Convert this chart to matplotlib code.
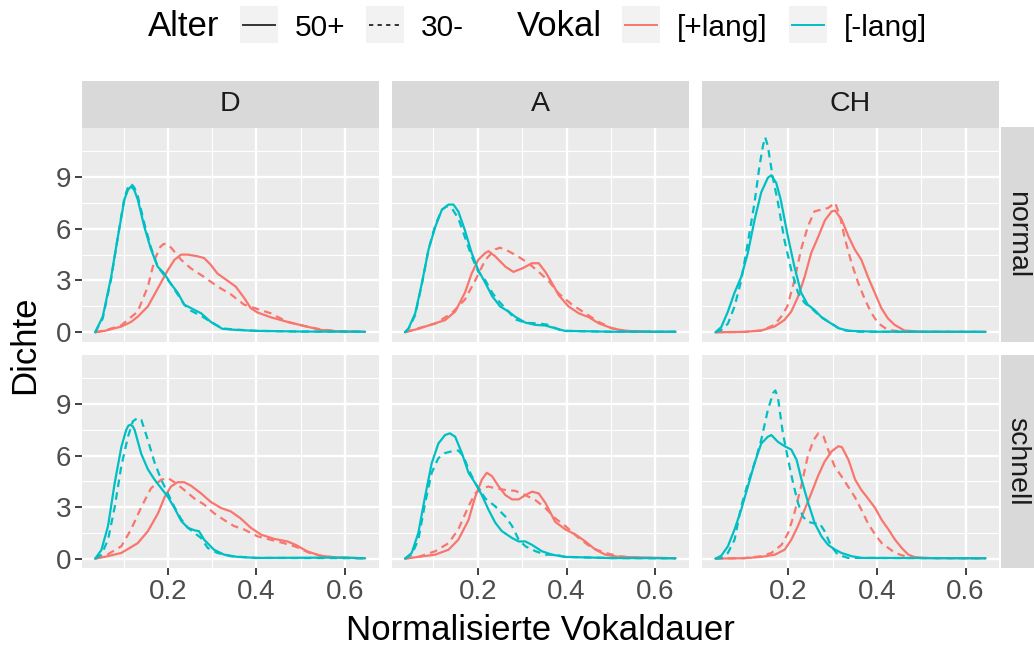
import matplotlib
matplotlib.use("Agg")
import matplotlib.pyplot as plt
from matplotlib.lines import Line2D
from matplotlib.patches import Rectangle

plt.rcParams["font.family"] = ["Liberation Sans", "DejaVu Sans"]

# facets
REGIONEN = ["D", "A", "CH"]
TEMPI = ["normal", "schnell"]
VOKALE = ["[+lang]", "[-lang]"]
ALTER = ["50+", "30-"]

X_TICKS = [0.2, 0.4, 0.6]
Y_TICKS = [0, 3, 6, 9]

# density curves: (Vokaldauer, Dichte)
D_N_PLUS_50 = [(0.036, 0), (0.057, 0.08), (0.095, 0.33), (0.117, 0.6), (0.132, 0.9), (0.155, 1.5),
               (0.17, 2.2), (0.185, 2.9), (0.2, 3.6), (0.215, 4.2), (0.23, 4.5), (0.245, 4.5),
               (0.267, 4.4), (0.282, 4.3), (0.297, 3.9), (0.312, 3.4), (0.334, 3.0), (0.353, 2.65),
               (0.372, 2.0), (0.387, 1.4), (0.402, 1.15), (0.432, 0.87), (0.47, 0.6), (0.507, 0.37),
               (0.544, 0.14), (0.58, 0.06), (0.645, 0.02)]
D_N_PLUS_30 = [(0.036, 0), (0.06, 0.12), (0.095, 0.4), (0.132, 1.2), (0.155, 2.65), (0.17, 4.2),
               (0.183, 4.95), (0.191, 5.12), (0.2, 5.1), (0.209, 4.85), (0.23, 4.2), (0.252, 3.7),
               (0.282, 3.2), (0.312, 2.65), (0.342, 2.2), (0.372, 1.6), (0.402, 1.35), (0.432, 1.1),
               (0.447, 0.9), (0.47, 0.6), (0.507, 0.37), (0.544, 0.17), (0.58, 0.07), (0.645, 0.02)]
D_N_MINUS_50 = [(0.036, 0), (0.053, 0.9), (0.072, 3.2), (0.087, 5.5), (0.102, 7.7), (0.11, 8.25),
                (0.117, 8.45), (0.124, 8.25), (0.132, 7.7), (0.147, 6.1), (0.162, 4.8), (0.177, 3.8),
                (0.192, 3.4), (0.207, 2.8), (0.222, 2.3), (0.237, 1.6), (0.252, 1.4), (0.275, 1.1),
                (0.297, 0.6), (0.323, 0.2), (0.357, 0.13), (0.4, 0.08), (0.5, 0.04), (0.645, 0.03)]
D_N_MINUS_30 = [(0.036, 0), (0.053, 0.8), (0.072, 3.1), (0.087, 5.5), (0.102, 7.8), (0.11, 8.4),
                (0.117, 8.6), (0.124, 8.4), (0.132, 7.9), (0.147, 6.3), (0.162, 4.9), (0.177, 3.8),
                (0.192, 3.3), (0.207, 2.8), (0.222, 2.2), (0.237, 1.6), (0.252, 1.25), (0.275, 0.95),
                (0.297, 0.6), (0.323, 0.22), (0.357, 0.15), (0.4, 0.08), (0.5, 0.04), (0.645, 0.03)]

A_N_PLUS_50 = [(0.036, 0), (0.066, 0.2), (0.104, 0.52), (0.126, 0.7), (0.149, 1.2), (0.171, 2.3),
               (0.186, 3.4), (0.201, 4.2), (0.217, 4.6), (0.224, 4.7), (0.239, 4.4), (0.262, 3.8),
               (0.28, 3.5), (0.3, 3.7), (0.322, 4.0), (0.337, 4.0), (0.352, 3.5), (0.367, 2.85),
               (0.382, 2.15), (0.404, 1.5), (0.427, 1.1), (0.45, 0.87), (0.472, 0.52), (0.502, 0.23),
               (0.532, 0.08), (0.6, 0.02), (0.645, 0.02)]
A_N_PLUS_30 = [(0.036, 0), (0.066, 0.23), (0.104, 0.5), (0.141, 1.1), (0.171, 1.9), (0.194, 3.0),
               (0.217, 4.2), (0.239, 4.8), (0.25, 4.9), (0.269, 4.7), (0.29, 4.4), (0.314, 4.0),
               (0.337, 3.5), (0.36, 2.95), (0.382, 2.25), (0.412, 1.6), (0.442, 1.1), (0.472, 0.6),
               (0.502, 0.23), (0.532, 0.08), (0.6, 0.02), (0.645, 0.02)]
A_N_MINUS_50 = [(0.036, 0), (0.044, 0.23), (0.059, 1.1), (0.074, 2.85), (0.089, 4.8), (0.104, 6.1),
                (0.119, 7.1), (0.134, 7.4), (0.145, 7.4), (0.156, 7.0), (0.171, 5.9), (0.186, 4.6),
                (0.201, 3.6), (0.217, 2.85), (0.232, 2.1), (0.25, 1.5), (0.269, 1.2), (0.284, 0.9),
                (0.307, 0.56), (0.329, 0.43), (0.352, 0.39), (0.374, 0.23), (0.396, 0.08), (0.5, 0.03),
                (0.645, 0.03)]
A_N_MINUS_30 = [(0.036, 0), (0.044, 0.2), (0.059, 1.0), (0.074, 2.8), (0.089, 4.8), (0.104, 6.2),
                (0.119, 7.1), (0.13, 7.3), (0.141, 7.2), (0.156, 6.6), (0.171, 5.5), (0.186, 4.4),
                (0.201, 3.5), (0.217, 3.0), (0.232, 2.3), (0.247, 1.8), (0.269, 1.2), (0.284, 0.75),
                (0.307, 0.55), (0.33, 0.52), (0.355, 0.45), (0.374, 0.25), (0.39, 0.08), (0.5, 0.03),
                (0.645, 0.03)]

CH_N_PLUS_50 = [(0.036, 0), (0.1, 0.02), (0.139, 0.1), (0.169, 0.33), (0.191, 0.7), (0.207, 1.2),
                (0.222, 2.05), (0.237, 3.2), (0.252, 4.6), (0.268, 5.55), (0.283, 6.5), (0.298, 7.0),
                (0.306, 7.05), (0.321, 6.5), (0.336, 5.55), (0.35, 4.8), (0.365, 4.2), (0.38, 3.2),
                (0.395, 2.3), (0.41, 1.4), (0.425, 0.8), (0.44, 0.43), (0.462, 0.1), (0.5, 0.03),
                (0.645, 0.02)]
CH_N_PLUS_30 = [(0.036, 0), (0.1, 0.02), (0.14, 0.1), (0.169, 0.43), (0.184, 0.9), (0.198, 1.5),
                (0.214, 3.0), (0.229, 4.8), (0.244, 6.1), (0.259, 7.0), (0.274, 7.1), (0.29, 7.2),
                (0.306, 7.5), (0.317, 6.7), (0.328, 5.4), (0.343, 4.0), (0.358, 2.85), (0.373, 1.9),
                (0.388, 1.1), (0.403, 0.52), (0.425, 0.13), (0.46, 0.03), (0.645, 0.02)]
CH_N_MINUS_50 = [(0.036, 0), (0.049, 0.3), (0.064, 1.2), (0.079, 2.3), (0.094, 3.2), (0.109, 4.6),
                 (0.124, 6.5), (0.139, 8.1), (0.154, 8.95), (0.162, 9.1), (0.173, 8.65), (0.183, 7.7),
                 (0.198, 5.7), (0.214, 3.8), (0.229, 2.3), (0.244, 1.6), (0.259, 1.3), (0.274, 0.9),
                 (0.291, 0.6), (0.314, 0.23), (0.337, 0.08), (0.4, 0.03), (0.645, 0.02)]
CH_N_MINUS_30 = [(0.036, 0), (0.049, 0.13), (0.064, 0.5), (0.079, 1.5), (0.094, 3.0), (0.109, 5.2),
                 (0.124, 7.5), (0.135, 9.6), (0.143, 10.8), (0.148, 11.3), (0.154, 10.8), (0.165, 9.0),
                 (0.177, 7.5), (0.191, 5.4), (0.207, 3.6), (0.222, 2.3), (0.237, 1.7), (0.252, 1.4),
                 (0.274, 0.87), (0.297, 0.52), (0.32, 0.13), (0.36, 0.03), (0.645, 0.02)]

D_S_PLUS_50 = [(0.036, 0), (0.057, 0.1), (0.095, 0.33), (0.132, 0.9), (0.155, 1.6), (0.178, 2.65),
               (0.193, 3.6), (0.207, 4.2), (0.222, 4.45), (0.237, 4.45), (0.252, 4.25), (0.275, 3.8),
               (0.297, 3.3), (0.32, 2.95), (0.342, 2.75), (0.364, 2.35), (0.387, 1.8), (0.41, 1.4),
               (0.44, 1.15), (0.47, 1.0), (0.49, 0.78), (0.514, 0.43), (0.544, 0.17), (0.58, 0.06),
               (0.645, 0.02)]
D_S_PLUS_30 = [(0.036, 0), (0.057, 0.14), (0.095, 0.72), (0.117, 1.7), (0.14, 3.0), (0.162, 4.1),
               (0.185, 4.6), (0.2, 4.7), (0.215, 4.45), (0.237, 4.0), (0.26, 3.5), (0.282, 3.15),
               (0.304, 2.65), (0.327, 2.25), (0.349, 1.9), (0.372, 1.7), (0.402, 1.3), (0.432, 1.1),
               (0.462, 0.9), (0.49, 0.68), (0.52, 0.33), (0.55, 0.14), (0.59, 0.05), (0.645, 0.02)]
D_S_MINUS_50 = [(0.036, 0), (0.05, 0.5), (0.065, 1.9), (0.08, 4.4), (0.095, 6.5), (0.106, 7.5),
                (0.111, 7.75), (0.116, 7.8), (0.121, 7.7), (0.125, 7.5), (0.14, 6.1), (0.155, 5.2),
                (0.17, 4.6), (0.185, 4.1), (0.2, 3.6), (0.215, 2.95), (0.23, 2.2), (0.245, 1.8),
                (0.26, 1.65), (0.27, 1.6), (0.282, 1.1), (0.304, 0.52), (0.327, 0.23), (0.357, 0.1),
                (0.4, 0.04), (0.6, 0.06), (0.645, 0.02)]
D_S_MINUS_30 = [(0.036, 0), (0.05, 0.23), (0.065, 1.1), (0.08, 3.0), (0.095, 5.4), (0.11, 7.1),
                (0.121, 8.0), (0.132, 8.2), (0.14, 8.1), (0.155, 6.9), (0.17, 5.6), (0.185, 4.6),
                (0.2, 3.8), (0.215, 3.0), (0.23, 2.3), (0.245, 1.8), (0.26, 1.5), (0.275, 1.2),
                (0.29, 0.62), (0.312, 0.33), (0.342, 0.14), (0.4, 0.04), (0.645, 0.02)]

A_S_PLUS_50 = [(0.036, 0), (0.066, 0.1), (0.104, 0.23), (0.134, 0.52), (0.156, 1.1), (0.179, 2.25),
               (0.194, 3.6), (0.209, 4.6), (0.22, 5.0), (0.232, 4.8), (0.247, 4.2), (0.262, 3.7),
               (0.277, 3.45), (0.292, 3.45), (0.307, 3.7), (0.322, 3.9), (0.337, 3.8), (0.352, 3.25),
               (0.374, 2.15), (0.397, 1.7), (0.42, 1.4), (0.442, 1.0), (0.465, 0.52), (0.487, 0.23),
               (0.517, 0.1), (0.645, 0.02)]
A_S_PLUS_30 = [(0.036, 0), (0.066, 0.1), (0.104, 0.43), (0.134, 0.9), (0.156, 1.7), (0.179, 3.05),
               (0.194, 3.8), (0.209, 4.1), (0.224, 4.2), (0.239, 4.1), (0.262, 4.0), (0.284, 3.95),
               (0.307, 3.7), (0.33, 3.4), (0.352, 2.95), (0.374, 2.35), (0.397, 1.9), (0.427, 1.2),
               (0.457, 0.62), (0.487, 0.33), (0.517, 0.14), (0.56, 0.05), (0.645, 0.02)]
A_S_MINUS_50 = [(0.036, 0), (0.051, 0.33), (0.066, 1.5), (0.081, 3.6), (0.096, 5.55), (0.111, 6.7),
                (0.126, 7.2), (0.137, 7.3), (0.149, 7.1), (0.164, 6.15), (0.179, 5.0), (0.194, 4.4),
                (0.209, 3.7), (0.224, 2.85), (0.239, 2.1), (0.254, 1.6), (0.277, 1.2), (0.292, 1.0),
                (0.307, 1.0), (0.322, 0.8), (0.344, 0.43), (0.367, 0.23), (0.397, 0.1), (0.5, 0.03),
                (0.645, 0.02)]
A_S_MINUS_30 = [(0.036, 0), (0.051, 0.23), (0.066, 1.1), (0.081, 3.2), (0.096, 5.0), (0.111, 5.85),
                (0.126, 6.15), (0.141, 6.25), (0.156, 6.3), (0.168, 5.95), (0.179, 5.2), (0.194, 4.4),
                (0.217, 3.5), (0.239, 3.05), (0.262, 2.45), (0.277, 1.9), (0.292, 1.1), (0.307, 0.72),
                (0.33, 0.43), (0.352, 0.23), (0.374, 0.23), (0.397, 0.1), (0.5, 0.03), (0.645, 0.02)]

CH_S_PLUS_50 = [(0.036, 0), (0.1, 0.02), (0.139, 0.1), (0.17, 0.23), (0.192, 0.52), (0.207, 1.1),
                (0.222, 1.9), (0.237, 2.85), (0.252, 3.8), (0.267, 4.8), (0.282, 5.65), (0.298, 6.25),
                (0.313, 6.55), (0.321, 6.5), (0.336, 5.75), (0.351, 4.6), (0.365, 4.0), (0.38, 3.5),
                (0.396, 2.95), (0.411, 2.25), (0.426, 1.7), (0.441, 1.1), (0.456, 0.62), (0.471, 0.23),
                (0.486, 0.08), (0.52, 0.03), (0.645, 0.02)]
CH_S_PLUS_30 = [(0.036, 0), (0.1, 0.03), (0.139, 0.14), (0.162, 0.33), (0.185, 0.8), (0.2, 1.5),
                (0.214, 2.65), (0.229, 4.2), (0.244, 5.95), (0.257, 6.9), (0.268, 7.3), (0.28, 7.1),
                (0.29, 6.35), (0.305, 5.35), (0.32, 4.8), (0.335, 4.2), (0.35, 3.6), (0.365, 2.85),
                (0.38, 2.05), (0.396, 1.4), (0.411, 0.9), (0.426, 0.62), (0.441, 0.33), (0.463, 0.14),
                (0.5, 0.03), (0.645, 0.02)]
CH_S_MINUS_50 = [(0.036, 0), (0.049, 0.17), (0.064, 0.72), (0.079, 1.7), (0.094, 2.85), (0.109, 4.2),
                 (0.124, 5.55), (0.139, 6.7), (0.154, 7.1), (0.162, 7.2), (0.177, 6.8), (0.192, 6.55),
                 (0.207, 6.35), (0.219, 5.75), (0.23, 4.6), (0.245, 3.25), (0.26, 2.05), (0.275, 1.3),
                 (0.29, 0.8), (0.306, 0.52), (0.32, 0.33), (0.343, 0.14), (0.365, 0.04), (0.645, 0.02)]
CH_S_MINUS_30 = [(0.036, 0), (0.049, 0.04), (0.064, 0.33), (0.079, 1.1), (0.094, 3.05), (0.109, 4.4),
                 (0.124, 5.55), (0.139, 6.9), (0.154, 8.65), (0.166, 9.65), (0.171, 9.8), (0.177, 9.35),
                 (0.188, 7.3), (0.2, 5.75), (0.211, 4.4), (0.222, 3.25), (0.233, 2.45), (0.244, 2.15),
                 (0.259, 2.05), (0.271, 2.05), (0.282, 1.6), (0.297, 0.72), (0.312, 0.23), (0.335, 0.04),
                 (0.645, 0.02)]

CURVES = {
    ("D", "normal"): [D_N_PLUS_50, D_N_PLUS_30, D_N_MINUS_50, D_N_MINUS_30],
    ("A", "normal"): [A_N_PLUS_50, A_N_PLUS_30, A_N_MINUS_50, A_N_MINUS_30],
    ("CH", "normal"): [CH_N_PLUS_50, CH_N_PLUS_30, CH_N_MINUS_50, CH_N_MINUS_30],
    ("D", "schnell"): [D_S_PLUS_50, D_S_PLUS_30, D_S_MINUS_50, D_S_MINUS_30],
    ("A", "schnell"): [A_S_PLUS_50, A_S_PLUS_30, A_S_MINUS_50, A_S_MINUS_30],
    ("CH", "schnell"): [CH_S_PLUS_50, CH_S_PLUS_30, CH_S_MINUS_50, CH_S_MINUS_30],
}
# order inside each list: (Vokal, Alter)
GROUPS = [("[+lang]", "50+"), ("[+lang]", "30-"), ("[-lang]", "50+"), ("[-lang]", "30-")]

VOKAL_COLORS = {"[+lang]": "#F8766D", "[-lang]": "#00BFC4"}
ALTER_STYLE = {"50+": "-", "30-": (0, (3.4, 2.4))}

W, H = 1034, 645
COLS = [(81.7, 378.5), (391.5, 689.0), (702.0, 999.0)]
ROWS = [(127.5, 342.0), (355.0, 568.3)]


def box(left, top, right, bottom):
    # pixel box (from top-left) -> figure fraction
    return [left / W, 1 - bottom / H, (right - left) / W, (bottom - top) / H]


# shared scales like facet_grid, 5% expansion
all_x = [p[0] for c in CURVES.values() for s in c for p in s]
all_y = [p[1] for c in CURVES.values() for s in c for p in s]
xpad = (max(all_x) - min(all_x)) * 0.05
ypad = (max(all_y) - min(all_y)) * 0.05
XLIM = (min(all_x) - xpad, max(all_x) + xpad)
YLIM = (min(all_y) - ypad, max(all_y) + ypad)

fig = plt.figure(figsize=(W / 100, H / 100), dpi=100)

for i, tempo in enumerate(TEMPI):
    for j, region in enumerate(REGIONEN):
        ax = fig.add_axes(box(COLS[j][0], ROWS[i][0], COLS[j][1], ROWS[i][1]))
        ax.set_facecolor("#EBEBEB")
        for sp in ax.spines.values():
            sp.set_visible(False)
        ax.set_xlim(*XLIM)
        ax.set_ylim(*YLIM)
        ax.set_xticks(X_TICKS)
        ax.set_xticks([0.1, 0.3, 0.5], minor=True)
        ax.set_yticks(Y_TICKS)
        ax.set_yticks([1.5, 4.5, 7.5, 10.5], minor=True)
        ax.set_xticklabels([f"{t:.1f}" for t in X_TICKS])
        ax.set_yticklabels([str(t) for t in Y_TICKS])
        ax.grid(which="major", color="white", linewidth=1.7)
        ax.grid(which="minor", color="white", linewidth=0.8)
        ax.set_axisbelow(True)
        ax.tick_params(which="minor", length=0)
        ax.tick_params(which="major", length=5, width=1.3, color="#333333",
                       labelsize=20, labelcolor="#4D4D4D", pad=2.5)
        if j > 0:
            ax.tick_params(axis="y", length=0, labelleft=False)
        if i == 0:
            ax.tick_params(axis="x", length=0, labelbottom=False)

        for (vokal, alter), pts in zip(GROUPS, CURVES[(region, tempo)]):
            xs = [p[0] for p in pts]
            ys = [p[1] for p in pts]
            ax.plot(xs, ys, color=VOKAL_COLORS[vokal], linestyle=ALTER_STYLE[alter],
                    linewidth=1.6, solid_joinstyle="round", solid_capstyle="round")

# strips
for j, region in enumerate(REGIONEN):
    st = fig.add_axes(box(COLS[j][0], 81.0, COLS[j][1], 127.5))
    st.set_facecolor("#D9D9D9")
    st.set_xticks([])
    st.set_yticks([])
    for sp in st.spines.values():
        sp.set_visible(False)
    st.text(0.5, 0.5, region, ha="center", va="center", fontsize=20.5, color="#1A1A1A",
            transform=st.transAxes)

for i, tempo in enumerate(TEMPI):
    top, bottom = ROWS[i]
    st = fig.add_axes(box(1000.5, top, 1047.0, bottom))
    st.set_facecolor("#D9D9D9")
    st.set_xticks([])
    st.set_yticks([])
    for sp in st.spines.values():
        sp.set_visible(False)
    # the strip runs past the right edge, keep the label inside the picture
    fig.text(1017 / W, 1 - (top + bottom) / 2 / H, tempo, ha="center", va="center",
             rotation=-90, fontsize=20.5, color="#1A1A1A")

# axis titles
fig.text(540 / W, 1 - 630 / H, "Normalisierte Vokaldauer", ha="center", va="center", fontsize=25)
fig.text(25 / W, 1 - 345 / H, "Dichte", ha="center", va="center", rotation=90, fontsize=25)

# legend on top
lg = fig.add_axes([0, 1 - 60 / H, 1, 60 / H])
lg.set_xlim(0, W)
lg.set_ylim(60, 0)
lg.axis("off")

BASE = 36.5
KEY_TOP, KEY_SIZE = 6, 37
for title, x in [("Alter", 148), ("Vokal", 517)]:
    lg.text(x, BASE, title, ha="left", va="baseline", fontsize=25)

legend_items = [
    (240, "50+", "#333333", "-"),
    (366, "30-", "#333333", (0, (2.2, 2.2))),
    (622, "[+lang]", VOKAL_COLORS["[+lang]"], "-"),
    (789, "[-lang]", VOKAL_COLORS["[-lang]"], "-"),
]
for x, label, color, ls in legend_items:
    lg.add_patch(Rectangle((x, KEY_TOP), 38, KEY_SIZE, facecolor="#F2F2F2", edgecolor="none"))
    lg.add_line(Line2D([x + 3, x + 35], [KEY_TOP + KEY_SIZE / 2] * 2, color=color,
                       linewidth=1.4, linestyle=ls))
    lg.text(x + 55, BASE, label, ha="left", va="baseline", fontsize=21.5)

fig.savefig("out.png", dpi=100)
